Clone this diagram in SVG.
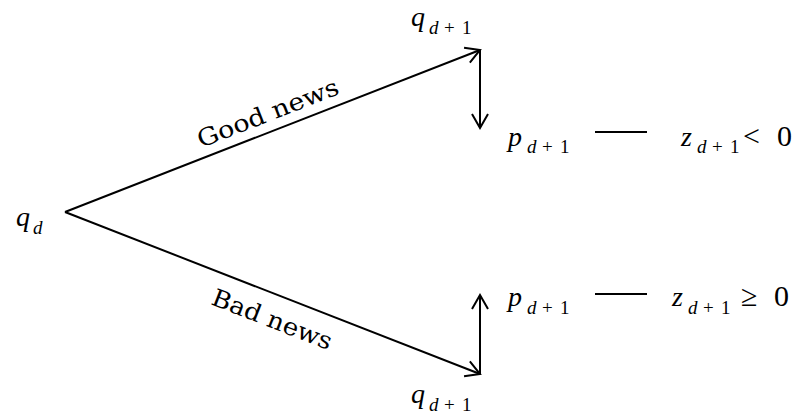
<svg xmlns="http://www.w3.org/2000/svg" width="806" height="420" viewBox="0 0 806 420">
<style>
.ln{stroke:#000;stroke-width:2;fill:none}
.m{font-family:"Liberation Serif","DejaVu Serif",serif;font-style:italic;font-size:28px;fill:#000}
.s{font-family:"Liberation Serif","DejaVu Serif",serif;font-style:italic;font-size:19px;fill:#000}
.su{font-family:"Liberation Serif","DejaVu Serif",serif;font-size:19px;fill:#000}
.op{font-family:"Liberation Serif","DejaVu Serif",serif;font-size:30px;fill:#000}
.lbl{font-family:"DejaVu Serif","Liberation Serif",serif;font-size:24px;fill:#000}
</style>
<defs>
<marker id="ah" viewBox="-16 -10 18 20" refX="0" refY="0" markerWidth="18" markerHeight="20" markerUnits="userSpaceOnUse" orient="auto">
<path d="M-14,-8 L0,0 L-14,8" fill="none" stroke="#000" stroke-width="2"/>
</marker>
</defs>
<g id="connectors">
<line class="ln" x1="65" y1="212" x2="480" y2="50" marker-end="url(#ah)"/>
<line class="ln" x1="65" y1="212" x2="480" y2="374" marker-end="url(#ah)"/>
<line class="ln" x1="480" y1="50" x2="480" y2="128" marker-end="url(#ah)"/>
<line class="ln" x1="480" y1="374" x2="480" y2="295" marker-end="url(#ah)"/>
<line class="ln" x1="595" y1="132" x2="647" y2="132"/>
<line class="ln" x1="595" y1="294" x2="647" y2="294"/>
<text class="lbl" transform="translate(201,148) rotate(-21.3)" textLength="150" lengthAdjust="spacingAndGlyphs">Good news</text>
<text class="lbl" transform="translate(210,304) rotate(21.3)" textLength="127" lengthAdjust="spacingAndGlyphs">Bad news</text>
</g>
<g id="node-qd">
<text class="m" x="16" y="226">q</text>
<text class="s" x="33" y="234">d</text>
</g>
<g id="node-q-top">
<text class="m" x="411" y="26">q</text>
<text class="s" x="429" y="34">d</text>
<text class="su" x="444" y="34">+</text>
<text class="su" x="462" y="34">1</text>
</g>
<g id="node-q-bottom">
<text class="m" x="411" y="403">q</text>
<text class="s" x="429" y="411">d</text>
<text class="su" x="444" y="411">+</text>
<text class="su" x="462" y="411">1</text>
</g>
<g id="node-p-top">
<text class="m" x="508" y="146">p</text>
<text class="s" x="527" y="153">d</text>
<text class="su" x="542" y="153">+</text>
<text class="su" x="560" y="153">1</text>
</g>
<g id="node-z-top">
<text class="m" x="681" y="146">z</text>
<text class="s" x="697" y="153">d</text>
<text class="su" x="712" y="153">+</text>
<text class="su" x="730" y="153">1</text>
<text class="op" x="743" y="146">&lt;</text>
<text class="op" x="777" y="146">0</text>
</g>
<g id="node-p-bottom">
<text class="m" x="508" y="306">p</text>
<text class="s" x="527" y="314">d</text>
<text class="su" x="542" y="314">+</text>
<text class="su" x="560" y="314">1</text>
</g>
<g id="node-z-bottom">
<text class="m" x="672" y="306">z</text>
<text class="s" x="688" y="314">d</text>
<text class="su" x="703" y="314">+</text>
<text class="su" x="721" y="314">1</text>
<text class="op" x="741" y="306">≥</text>
<text class="op" x="774" y="306">0</text>
</g>
</svg>
